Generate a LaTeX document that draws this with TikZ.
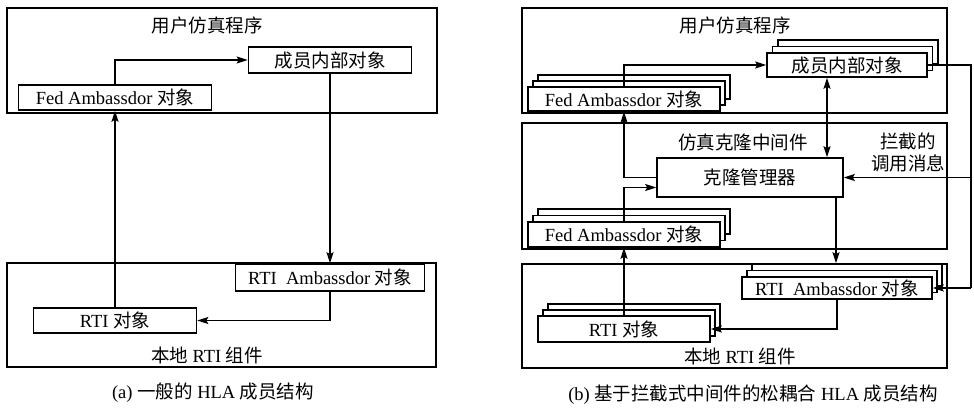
\documentclass[tikz,border=0pt]{standalone}
\usepackage{fontspec}
\setmainfont{Liberation Serif}
\newfontfamily\cjk{Noto Sans CJK SC}
\newcommand\zh[1]{{\cjk #1}}
\usetikzlibrary{arrows.meta,calc}
\begin{document}
\begin{tikzpicture}[x=1pt,y=-1pt,
  lw/.style={line width=1.6pt},
  frame/.style={draw, lw, inner sep=0pt},
  box/.style={draw, lw, fill=white, inner sep=0pt, font=\fontsize{18.5}{20}\selectfont},
  lbl/.style={inner sep=0pt, font=\fontsize{18.5}{20}\selectfont},
  arr/.style={lw, -{Stealth[length=11pt,width=7pt,inset=2pt]}},
  arrb/.style={lw, {Stealth[length=11pt,width=7pt,inset=2pt]}-{Stealth[length=11pt,width=7pt,inset=2pt]}},
]
\useasboundingbox (0,0) rectangle (974,409);
% ---------------- (a) ----------------
\node[frame, minimum width=430pt, minimum height=105pt] (topA) at (222,60.5) {};
\node[frame, minimum width=429pt, minimum height=104pt] (botA) at (221.5,315) {};
\node[lbl] (titleA) at (207,25) {\zh{用户仿真程序}};
\node[box, minimum width=163pt, minimum height=26pt] (memA) at (330,60) {\zh{成员内部对象}};
\node[box, minimum width=193pt, minimum height=25pt] (fedA) at (115,97.5) {Fed Ambassdor \zh{对象}};
\node[box, minimum width=189pt, minimum height=27pt] (rtiambA) at (330,277.5) {RTI\ \ Ambassdor \zh{对象}};
\node[box, minimum width=163pt, minimum height=25pt] (rtiA) at (115,320.5) {RTI \zh{对象}};
\node[lbl] (locA) at (207,355) {\zh{本地} RTI \zh{组件}};
\node[lbl] (capA) at (213,393) {(a) \zh{一般的} HLA \zh{成员结构}};
\draw[arr] (fedA.north) |- (memA.west);
\draw[arr] (memA.south) -- (rtiambA.north);
\draw[arr] (rtiambA.south) |- (rtiA.east);
\draw[arr] (rtiA.north) -- (fedA.south);
% ---------------- (b) ----------------
\node[frame, minimum width=425pt, minimum height=105pt] (topB) at (734.5,60.5) {};
\node[frame, minimum width=425pt, minimum height=126pt] (midB) at (734.5,186) {};
\node[frame, minimum width=425pt, minimum height=104pt] (botB) at (734.5,316) {};
\node[lbl] (titleB) at (735,25) {\zh{用户仿真程序}};
\node[lbl] (titleM) at (743,142) {\zh{仿真克隆中间件}};
\node[lbl] (intc1) at (908,141) {\zh{拦截的}};
\node[lbl] (intc2) at (908,163) {\zh{调用消息}};
\node[lbl] (locB) at (740,356) {\zh{本地} RTI \zh{组件}};
\node[lbl] (capB) at (753,395) {(b) \zh{基于拦截式中间件的松耦合} HLA \zh{成员结构}};
% stacks
\node[box, minimum width=160pt, minimum height=24pt] (memB3) at (858,52) {};
\node[box, minimum width=160pt, minimum height=24pt] (memB2) at (852.5,58.5) {};
\node[box, minimum width=160pt, minimum height=24pt] (memB) at (847,65) {\zh{成员内部对象}};
\node[box, minimum width=192pt, minimum height=24pt] (fedU3) at (634,87) {};
\node[box, minimum width=192pt, minimum height=24pt] (fedU2) at (629,93) {};
\node[box, minimum width=192pt, minimum height=24pt] (fedU) at (624,99) {Fed Ambassdor \zh{对象}};
\node[box, minimum width=192pt, minimum height=25pt] (fedL3) at (634,221.5) {};
\node[box, minimum width=192pt, minimum height=25pt] (fedL2) at (629,228) {};
\node[box, minimum width=192pt, minimum height=25pt] (fedL) at (624,234.5) {Fed Ambassdor \zh{对象}};
\node[box, minimum width=186pt, minimum height=39pt] (clone) at (750,177.5) {\zh{克隆管理器}};
\node[box, minimum width=190pt, minimum height=22pt] (rtiambB3) at (847,275) {};
\node[box, minimum width=190pt, minimum height=22pt] (rtiambB2) at (842,281.5) {};
\node[box, minimum width=190pt, minimum height=22pt] (rtiambB) at (837,288) {RTI\ \ Ambassdor \zh{对象}};
\node[box, minimum width=172pt, minimum height=26pt] (rtiB3) at (634,317) {};
\node[box, minimum width=172pt, minimum height=26pt] (rtiB2) at (629,323) {};
\node[box, minimum width=172pt, minimum height=26pt] (rtiB) at (624,329) {RTI \zh{对象}};
% connectors
\coordinate (bx) at (827,0);
\coordinate (cx) at (836,0);
\coordinate (rx) at (971,0);
\draw[arr] (fedU.north) |- (memB.west);
\draw[arrb] (bx |- memB.south) -- (bx |- clone.north);
\draw[arr] (clone.west) -| (fedU.south);
\draw[arr] (fedL.north) |- ([yshift=-10pt]clone.west);
\draw[arr] (cx |- clone.south) -- (cx |- rtiambB3.north);
\draw[arr] (rtiambB.south) |- (rtiB.east);
\draw[arr] (rtiB.north) -- (fedL.south);
\draw[lw] (memB.east) -- (memB.east -| rx) -- (rx |- rtiambB.east);
\draw[arr] (rx |- rtiambB.east) -- (rtiambB.east);
\draw[arr] (rx |- clone.east) -- (clone.east);
\end{tikzpicture}
\end{document}
